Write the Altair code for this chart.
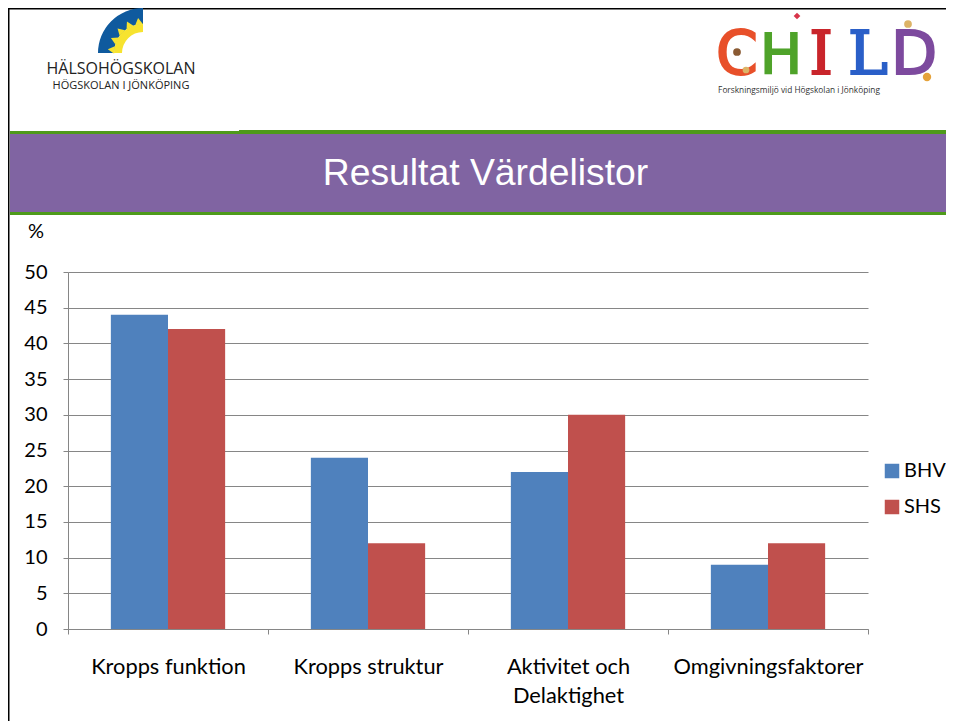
import math
import altair as alt
import pandas as pd

categories = ["Kropps funktion", "Kropps struktur", "Aktivitet och\nDelaktighet", "Omgivningsfaktorer"]
bhv_values = [44, 24, 22, 9]
shs_values = [42, 12, 30, 12]
series_names = ["BHV", "SHS"]
series_colors = ["#4F81BD", "#C0504D"]
y_ticks = list(range(0, 55, 5))

rows = []
for c, b, s in zip(categories, bhv_values, shs_values):
    rows.append({"cat": c, "series": "BHV", "val": b})
    rows.append({"cat": c, "series": "SHS", "val": s})
df = pd.DataFrame(rows)

OX, OY = 8, 8
W, H = 938, 713
one = alt.Data(values=[{"a": 1}])


def rect(x0, y0, x1, y1, color):
    return alt.Chart(one).mark_rect(color=color, stroke=None).encode(
        x=alt.value(x0 - OX), x2=alt.value(x1 - OX), y=alt.value(y0 - OY), y2=alt.value(y1 - OY))


def text(t, x, y, size, color="#000000", font="Lato", align="center", **kw):
    return alt.Chart(one).mark_text(font=font, fontSize=size, color=color, align=align, baseline="middle", **kw).encode(
        x=alt.value(x - OX), y=alt.value(y - OY), text=alt.value(t))


def arc(cx, cy, r0, r1, color):
    return alt.Chart(one).mark_arc(color=color, radius=r1, radius2=r0, theta=1.5 * math.pi, theta2=2 * math.pi).encode(
        x=alt.value(cx - OX), y=alt.value(cy - OY))


def pt(x, y, size, color, shape="circle", angle=0):
    return alt.Chart(one).mark_point(filled=True, color=color, opacity=1, shape=shape, size=size, angle=angle).encode(
        x=alt.value(x - OX), y=alt.value(y - OY))


def letter(t, x, size, color, font="DejaVu Sans"):
    return text(t, x, 56, size, color, font, stroke=color, strokeWidth=2)


deco = [
    rect(8, 8, 9.5, 721, "#000000"),
    rect(8, 8, 954, 9.5, "#000000"),
    rect(10, 131, 239, 135, "#4E9A1A"),
    rect(239, 130, 954, 135, "#4E9A1A"),
    rect(10, 134, 954, 212, "#8064A2"),
    rect(10, 212, 954, 215, "#4E9A1A"),
    text("Resultat Värdelistor", 485.5, 173.5, 37.3, "#FFFFFF", "Liberation Sans"),
    text("%", 36, 232, 20),
    # Hälsohögskolan logo
    arc(143, 53, 29, 45, "#0F5A9E"),
    arc(143, 53, 21, 29, "#F7E32F"),
    text("HÄLSOHÖGSKOLAN", 121, 69, 16, "#222222", "Open Sans"),
    text("HÖGSKOLAN I JÖNKÖPING", 121, 86, 11, "#222222", "Open Sans"),
    # CHILD logo
    letter("C", 737, 60, "#E8502A"),
    letter("H", 781, 56, "#4FA32A"),
    letter("I", 821, 60, "#C9252B", "DejaVu Serif"),
    letter("L", 868, 60, "#2A5FC8", "DejaVu Serif"),
    letter("D", 914, 60, "#7D4A9E"),
    pt(797, 16, 45, "#D8344A", "diamond"),
    pt(927, 77, 70, "#E5A23A"),
    pt(908, 24, 60, "#DDB467"),
    pt(737, 52, 60, "#8A5A33"),
    pt(746, 70, 45, "#DDB467"),
    text("Forskningsmiljö vid Högskolan i Jönköping", 799, 91, 8.3, "#333333", "Open Sans"),
]
for phi in [8, 27, 46, 65, 84]:
    rad = math.radians(phi)
    deco.append(pt(143 - 32 * math.sin(rad), 53 - 32 * math.cos(rad), 60, "#F7E32F", "triangle-up", 360 - phi))

base = alt.Chart(df)
bars = base.mark_bar().encode(
    x=alt.X("cat:N", sort=categories, title=None,
            scale=alt.Scale(range=[60, 860], paddingInner=0, paddingOuter=0),
            axis=alt.Axis(labelAngle=0, tickBand="extent", tickSize=5, labelFontSize=21.8, labelFont="Lato",
                          labelColor="#000000", labelPadding=22, labelLineHeight=29, labelBaseline="top",
                          labelLimit=240, domainColor="#868686", tickColor="#868686", offset=621 - H,
                          labelExpr="split(datum.label, '\\n')", grid=False)),
    xOffset=alt.XOffset("series:N", scale=alt.Scale(paddingInner=0, paddingOuter=0.75)),
    y=alt.Y("val:Q", title=None,
            scale=alt.Scale(domain=[0, 50], range=[621, 264], nice=False),
            axis=alt.Axis(values=y_ticks, tickSize=5, labelFontSize=20, labelFont="Lato", labelColor="#000000",
                          labelPadding=16, gridColor="#868686", domainColor="#868686", tickColor="#868686",
                          offset=-60, grid=True)),
    color=alt.Color("series:N", scale=alt.Scale(domain=series_names, range=series_colors),
                    legend=alt.Legend(title=None, orient="none", legendX=874, legendY=453, symbolType="square",
                                      symbolSize=210, symbolStrokeWidth=0, labelFontSize=20, labelFont="Lato",
                                      labelColor="#000000", rowPadding=16, labelOffset=2)),
)

chart = alt.layer(*deco, bars).properties(
    width=W, height=H, padding=0, autosize=alt.AutoSizeParams(type="none"), background="#FFFFFF"
).configure_view(stroke=None)

chart.save("out.html", embed_options={"renderer": "svg", "actions": False})
